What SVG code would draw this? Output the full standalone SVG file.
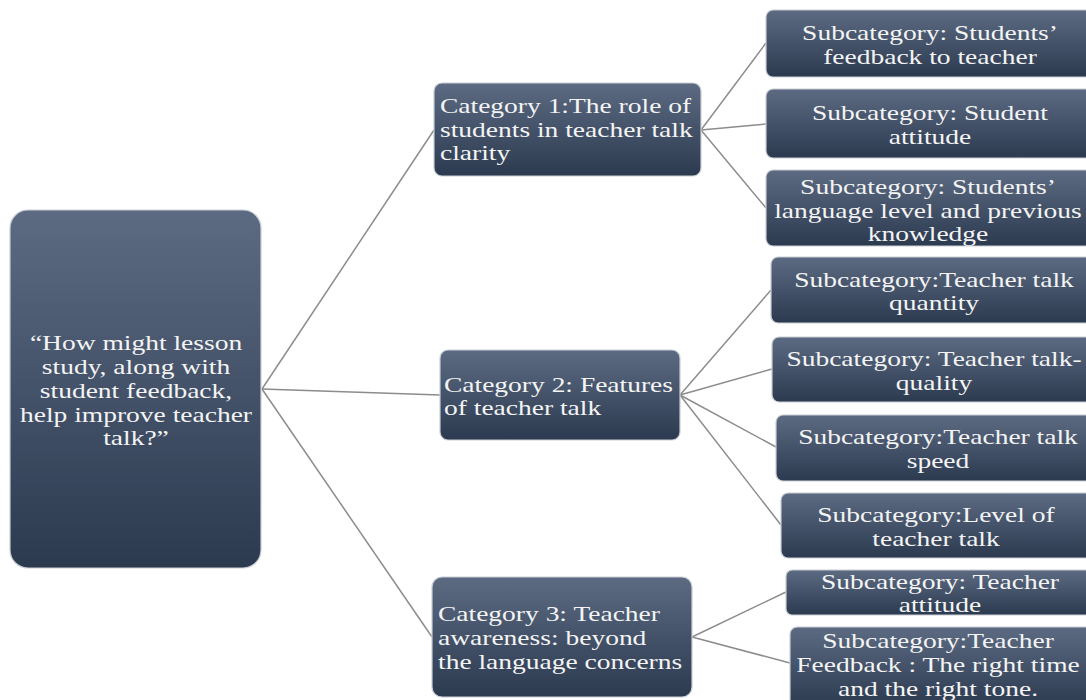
<svg xmlns="http://www.w3.org/2000/svg" width="1086" height="700" viewBox="0 0 1086 700">
<defs>
<linearGradient id="g" x1="0" y1="0" x2="0" y2="1">
<stop offset="0" stop-color="#5c6b82"/>
<stop offset="1" stop-color="#2c3a50"/>
</linearGradient>
</defs>
<style>
.box{fill:url(#g);stroke:#c9ced6;stroke-width:1.2}
.t{font-family:"Liberation Serif","Times New Roman",serif;font-size:22px;fill:#f4f4f4}
.c{text-anchor:middle}
.edge{stroke:#8c8c8c;stroke-width:1.5;fill:none}
</style>
<rect width="1086" height="700" fill="#ffffff"/>
<g id="connectors">
<line class="edge" x1="262" y1="389" x2="434" y2="130"/>
<line class="edge" x1="262" y1="389" x2="440" y2="395"/>
<line class="edge" x1="262" y1="389" x2="432" y2="637"/>
<line class="edge" x1="701" y1="130" x2="766" y2="43"/>
<line class="edge" x1="701" y1="130" x2="766" y2="124"/>
<line class="edge" x1="701" y1="130" x2="766" y2="208"/>
<line class="edge" x1="680" y1="395" x2="771" y2="290"/>
<line class="edge" x1="680" y1="395" x2="772" y2="369"/>
<line class="edge" x1="680" y1="395" x2="776" y2="447"/>
<line class="edge" x1="680" y1="395" x2="781" y2="525"/>
<line class="edge" x1="692" y1="637" x2="786" y2="592"/>
<line class="edge" x1="692" y1="637" x2="790" y2="663"/>
</g>
<g id="root">
<rect class="box" x="10" y="210" width="251" height="358" rx="18"/>
<g transform="translate(136,0) scale(1.25,1)"><text class="t c"><tspan x="0" y="350">“How might lesson</tspan><tspan x="0" y="374">study, along with</tspan><tspan x="0" y="398">student feedback,</tspan><tspan x="0" y="422">help improve teacher</tspan><tspan x="0" y="445">talk?”</tspan></text></g>
</g>
<g id="cat1">
<rect class="box" x="434" y="83" width="267" height="93" rx="8"/>
<g transform="translate(440,0) scale(1.25,1)"><text class="t"><tspan x="0" y="113">Category 1:The role of</tspan><tspan x="0" y="137">students in teacher talk</tspan><tspan x="0" y="160">clarity</tspan></text></g>
</g>
<g id="cat2">
<rect class="box" x="440" y="350" width="240" height="90" rx="8"/>
<g transform="translate(444,0) scale(1.25,1)"><text class="t"><tspan x="0" y="392">Category 2: Features</tspan><tspan x="0" y="415">of teacher talk</tspan></text></g>
</g>
<g id="cat3">
<rect class="box" x="432" y="577" width="260" height="120" rx="10"/>
<g transform="translate(438,0) scale(1.25,1)"><text class="t"><tspan x="0" y="621">Category 3: Teacher</tspan><tspan x="0" y="645">awareness: beyond</tspan><tspan x="0" y="669">the language concerns</tspan></text></g>
</g>
<g id="sub1">
<rect class="box" x="766" y="10" width="330" height="67" rx="7"/>
<g transform="translate(930,0) scale(1.25,1)"><text class="t c"><tspan x="0" y="40">Subcategory: Students’</tspan><tspan x="0" y="64">feedback to teacher</tspan></text></g>
</g>
<g id="sub2">
<rect class="box" x="766" y="89" width="330" height="69" rx="7"/>
<g transform="translate(930,0) scale(1.25,1)"><text class="t c"><tspan x="0" y="120">Subcategory: Student</tspan><tspan x="0" y="144">attitude</tspan></text></g>
</g>
<g id="sub3">
<rect class="box" x="766" y="170" width="330" height="76" rx="7"/>
<g transform="translate(928,0) scale(1.25,1)"><text class="t c"><tspan x="0" y="194">Subcategory: Students’</tspan><tspan x="0" y="218">language level and previous</tspan><tspan x="0" y="241">knowledge</tspan></text></g>
</g>
<g id="sub4">
<rect class="box" x="771" y="257" width="330" height="66" rx="7"/>
<g transform="translate(934,0) scale(1.25,1)"><text class="t c"><tspan x="0" y="287">Subcategory:Teacher talk</tspan><tspan x="0" y="310">quantity</tspan></text></g>
</g>
<g id="sub5">
<rect class="box" x="772" y="337" width="330" height="65" rx="7"/>
<g transform="translate(934,0) scale(1.25,1)"><text class="t c"><tspan x="0" y="366">Subcategory: Teacher talk-</tspan><tspan x="0" y="390">quality</tspan></text></g>
</g>
<g id="sub6">
<rect class="box" x="776" y="415" width="330" height="66" rx="7"/>
<g transform="translate(938,0) scale(1.25,1)"><text class="t c"><tspan x="0" y="444">Subcategory:Teacher talk</tspan><tspan x="0" y="468">speed</tspan></text></g>
</g>
<g id="sub7">
<rect class="box" x="781" y="493" width="330" height="65" rx="7"/>
<g transform="translate(936,0) scale(1.25,1)"><text class="t c"><tspan x="0" y="522">Subcategory:Level of</tspan><tspan x="0" y="546">teacher talk</tspan></text></g>
</g>
<g id="sub8">
<rect class="box" x="786" y="570" width="330" height="45" rx="6"/>
<g transform="translate(940,0) scale(1.25,1)"><text class="t c"><tspan x="0" y="589">Subcategory: Teacher</tspan><tspan x="0" y="612">attitude</tspan></text></g>
</g>
<g id="sub9">
<rect class="box" x="790" y="627" width="330" height="80" rx="7"/>
<g transform="translate(938,0) scale(1.25,1)"><text class="t c"><tspan x="0" y="648">Subcategory:Teacher</tspan><tspan x="0" y="672">Feedback : The right time</tspan><tspan x="0" y="696">and  the right tone.</tspan></text></g>
</g>
</svg>
